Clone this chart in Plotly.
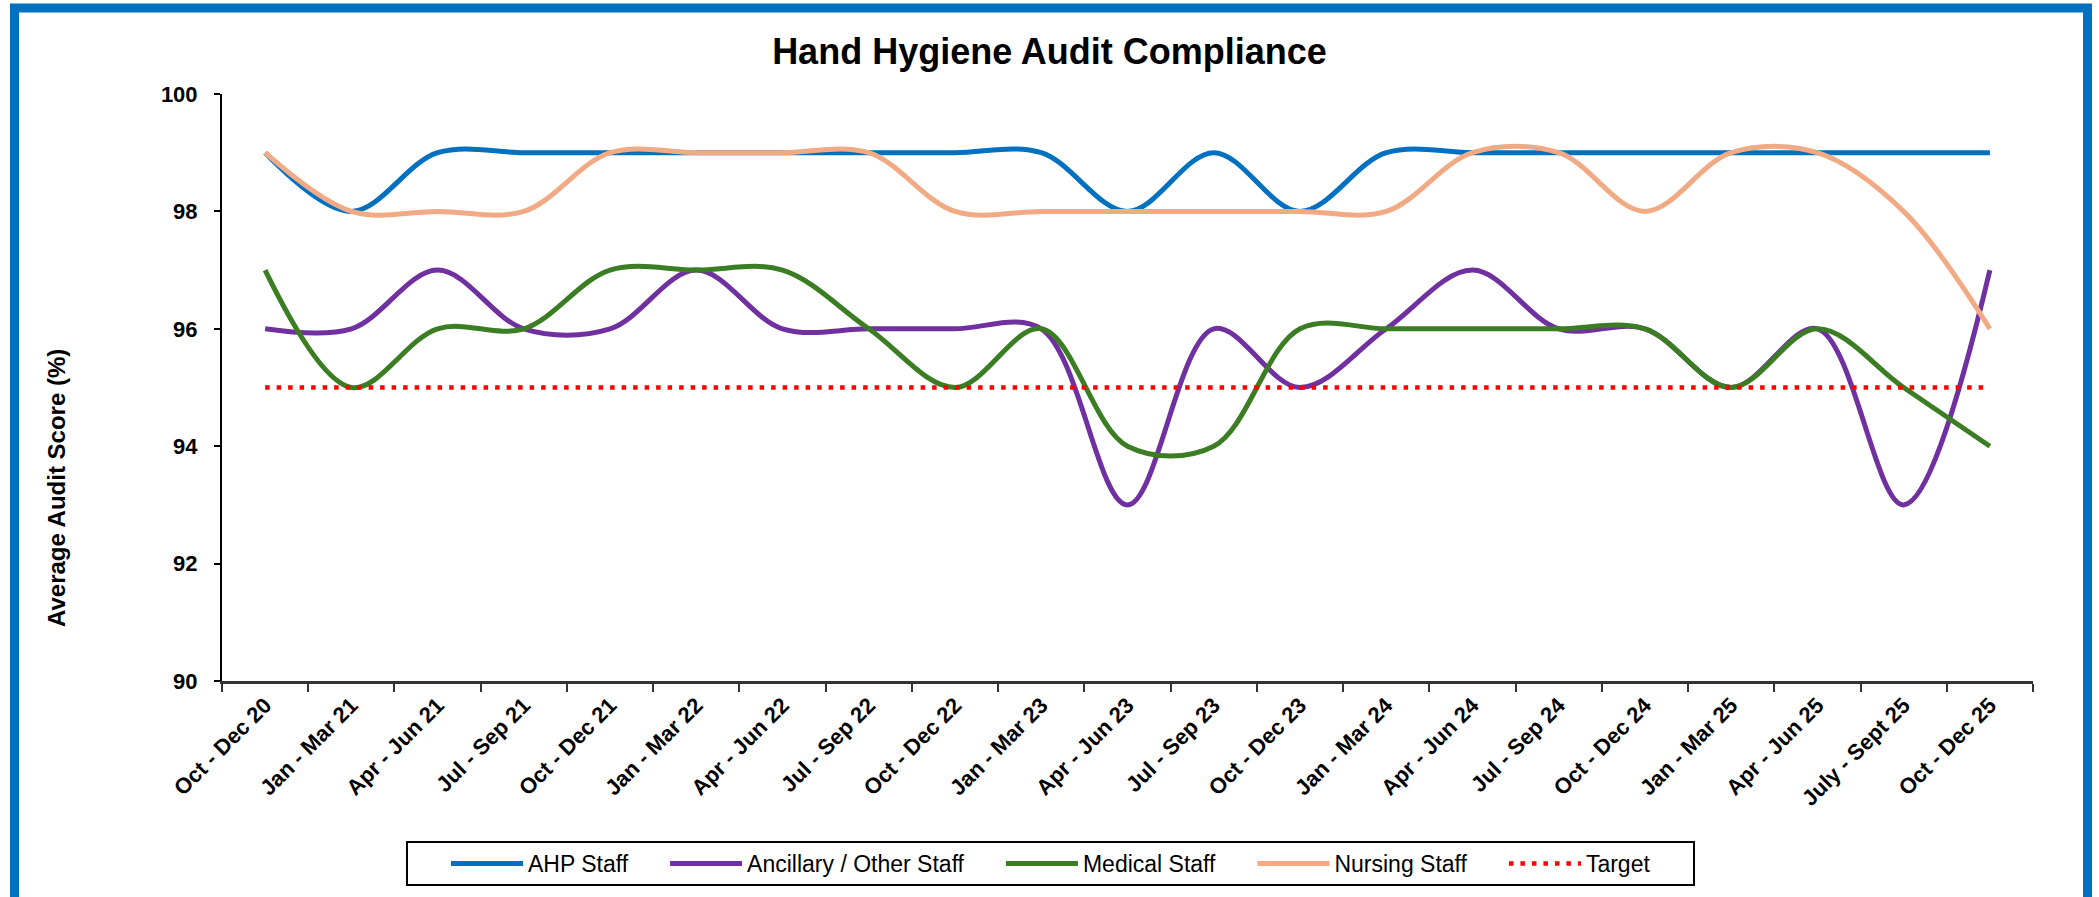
import plotly.graph_objects as go

# ---------------- data ----------------
categories = [
    "Oct - Dec 20", "Jan - Mar 21", "Apr - Jun 21", "Jul - Sep 21", "Oct - Dec 21",
    "Jan - Mar 22", "Apr - Jun 22", "Jul - Sep 22", "Oct - Dec 22", "Jan - Mar 23",
    "Apr - Jun 23", "Jul - Sep 23", "Oct - Dec 23", "Jan - Mar 24", "Apr - Jun 24",
    "Jul - Sep 24", "Oct - Dec 24", "Jan - Mar 25", "Apr - Jun 25", "July - Sept 25",
    "Oct - Dec 25",
]
ahp_staff = [99, 98, 99, 99, 99, 99, 99, 99, 99, 99, 98, 99, 98, 99, 99, 99, 99, 99, 99, 99, 99]
ancillary_staff = [96, 96, 97, 96, 96, 97, 96, 96, 96, 96, 93, 96, 95, 96, 97, 96, 96, 95, 96, 93, 97]
medical_staff = [97, 95, 96, 96, 97, 97, 97, 96, 95, 96, 94, 94, 96, 96, 96, 96, 96, 95, 96, 95, 94]
nursing_staff = [99, 98, 98, 98, 99, 99, 99, 99, 98, 98, 98, 98, 98, 98, 99, 99, 98, 99, 99, 98, 96]
target = [95, 95, 95, 95, 95, 95, 95, 95, 95, 95, 95, 95, 95, 95, 95, 95, 95, 95, 95, 95, 95]

series_names = ["AHP Staff", "Ancillary / Other Staff", "Medical Staff", "Nursing Staff", "Target"]
y_ticks = [90, 92, 94, 96, 98, 100]

# ---------------- layout geometry (pixels) ----------------
W, H = 2099, 897
L, R, T, B = 222, 66, 94, 216
PW, PH = W - L - R, H - T - B


def px_x(p):
    return (p - L) / PW


def px_y(p):
    return (H - B - p) / PH


FONT = "Liberation Sans, Arial, sans-serif"
PAD = "\u00a0" * 5

colors = ["#0070C0", "#7030A0", "#3B7D23", "#F2AA84"]
values = [ahp_staff, ancillary_staff, medical_staff, nursing_staff]

fig = go.Figure()
for name, vals, col in zip(series_names[:4], values, colors):
    fig.add_trace(go.Scatter(
        x=categories, y=vals, mode="lines", name=name + PAD,
        line=dict(color=col, width=5, shape="spline", smoothing=1),
    ))
fig.add_trace(go.Scatter(
    x=categories, y=target, mode="lines", name=series_names[4],
    line=dict(color="#FF0000", width=4.5, dash="4.5px,7px"),
))

fig.update_layout(
    width=W, height=H,
    margin=dict(l=L, r=R, t=T, b=B, autoexpand=False),
    paper_bgcolor="white", plot_bgcolor="white",
    font=dict(family=FONT, color="black"),
    title=dict(
        text="Hand Hygiene Audit Compliance",
        font=dict(family=FONT, size=36, weight="bold", color="black"),
        x=0.5, xref="container", xanchor="center",
        y=1 - 51 / H, yref="container", yanchor="middle",
    ),
    showlegend=True,
    legend=dict(
        orientation="h", x=px_x(446), xanchor="left",
        y=px_y(863.5), yanchor="middle",
        font=dict(family=FONT, size=23, color="black"),
        itemwidth=72, bgcolor="rgba(0,0,0,0)", borderwidth=0,
        traceorder="normal",
    ),
    xaxis=dict(
        type="category", range=[-0.5, len(categories) - 0.5],
        tickson="boundaries", ticks="outside", ticklen=8, tickwidth=2,
        tickcolor="#333333", showline=True, linecolor="#333333", linewidth=2.5,
        showgrid=False, zeroline=False, tickangle=-45,
        tickfont=dict(family=FONT, size=22, weight="bold", color="black"),
        fixedrange=True,
    ),
    yaxis=dict(
        range=[90, 100], tickvals=y_ticks, ticks="outside", ticklen=6, tickwidth=2,
        tickcolor="black", showline=True, linecolor="black", linewidth=2,
        showgrid=False, zeroline=False, ticklabelstandoff=12,
        tickfont=dict(family=FONT, size=22, weight="bold", color="black"),
        fixedrange=True,
    ),
    shapes=[
        dict(type="rect", xref="paper", yref="paper",
             x0=px_x(14.5), x1=px_x(2087.5), y0=px_y(8), y1=px_y(905),
             line=dict(color="#0070C0", width=9), fillcolor="rgba(0,0,0,0)", layer="above"),
        dict(type="rect", xref="paper", yref="paper",
             x0=px_x(407), x1=px_x(1694), y0=px_y(842), y1=px_y(885),
             line=dict(color="black", width=2), fillcolor="rgba(0,0,0,0)", layer="above"),
    ],
    annotations=[
        dict(text="Average Audit Score (%)", xref="paper", yref="paper",
             x=px_x(56), y=px_y(488), xanchor="center", yanchor="middle",
             textangle=-90, showarrow=False,
             font=dict(family=FONT, size=24, weight="bold", color="black")),
    ],
)

fig.write_html(
    "out.html",
    config={"displayModeBar": False},
    post_script="document.body.style.margin='0';document.body.style.overflow='hidden';",
)
